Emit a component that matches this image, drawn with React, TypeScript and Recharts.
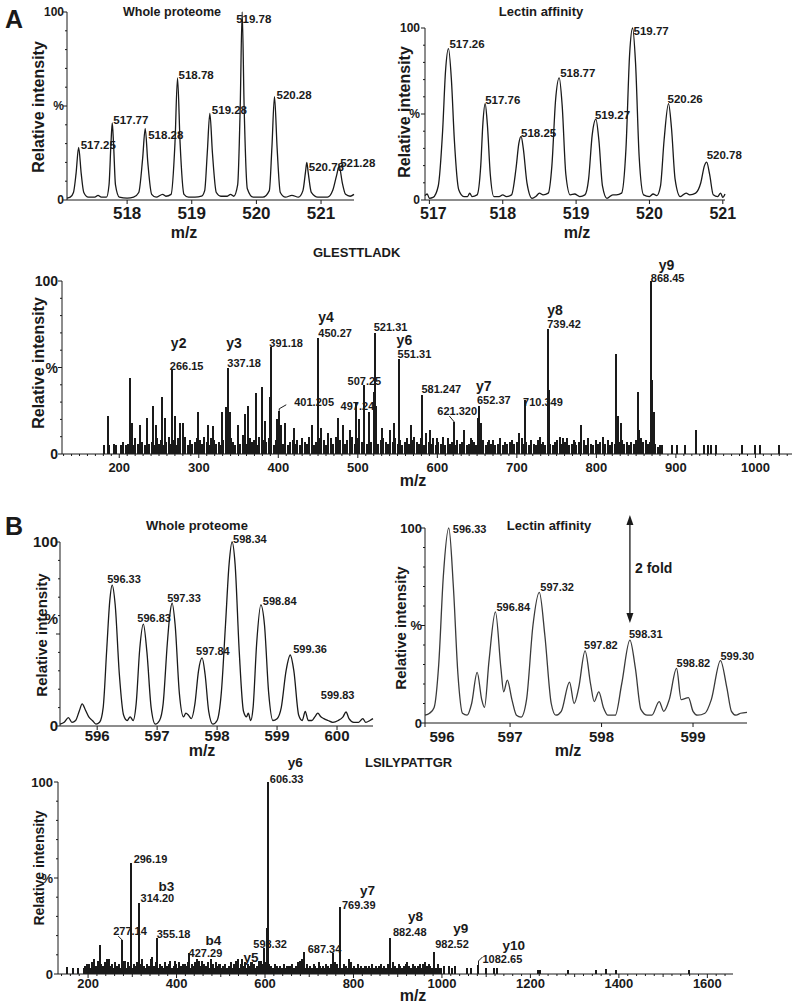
import React from 'react';
import { ComposedChart, Line, Bar, Scatter, XAxis, YAxis, ReferenceLine } from 'recharts';

const FONT = '"Liberation Sans", Arial, Helvetica, sans-serif';
const INK = '#1a1a1a';

type Pt = [number, number];
type Peak = { x: number; y: number; label: string };
type Ion = { x: number; y: number; text: string; ion?: string };

// ---------- A: isotope envelopes, m/z 517-521 ----------
const aWholePeaks: Peak[] = [
  { x: 517.25, y: 28, label: '517.25' },
  { x: 517.77, y: 41, label: '517.77' },
  { x: 518.28, y: 38, label: '518.28' },
  { x: 518.78, y: 65, label: '518.78' },
  { x: 519.28, y: 46, label: '519.28' },
  { x: 519.78, y: 100, label: '519.78' },
  { x: 520.28, y: 55, label: '520.28' },
  { x: 520.78, y: 20, label: '520.78' },
  { x: 521.28, y: 18, label: '521.28' },
];
// trace between the apexes
const aWholeTrace: Pt[] = [
  [517.07, 1], [517.12, 1.5], [517.17, 4], [517.21, 14], [517.29, 14], [517.33, 4], [517.4, 1.5], [517.5, 1.5],
  [517.55, 2.5], [517.6, 1.5], [517.68, 1.5], [517.72, 8], [517.75, 30], [517.79, 30], [517.82, 8], [517.88, 1.5],
  [518.0, 1], [518.1, 1.5], [518.18, 4], [518.24, 22], [518.32, 20], [518.38, 3], [518.45, 1.5], [518.55, 3],
  [518.6, 2], [518.68, 3], [518.74, 30], [518.82, 30], [518.88, 3], [518.95, 1.5], [519.05, 1.5], [519.15, 2],
  [519.2, 5], [519.24, 25], [519.32, 25], [519.38, 4], [519.45, 2], [519.55, 2], [519.6, 3], [519.65, 2],
  [519.71, 8], [519.75, 50], [519.81, 50], [519.86, 6], [519.95, 1.5], [520.1, 1.5], [520.2, 5], [520.24, 28],
  [520.32, 28], [520.37, 4], [520.45, 1.5], [520.55, 2.5], [520.65, 1.5], [520.72, 5], [520.76, 15], [520.8, 15],
  [520.85, 4], [520.95, 1.5], [521.1, 1.5], [521.18, 5], [521.24, 13], [521.33, 9], [521.38, 3], [521.45, 2], [521.51, 3],
];

const aLectinPeaks: Peak[] = [
  { x: 517.26, y: 88, label: '517.26' },
  { x: 517.76, y: 56, label: '517.76' },
  { x: 518.25, y: 37, label: '518.25' },
  { x: 518.77, y: 71, label: '518.77' },
  { x: 519.27, y: 47, label: '519.27' },
  { x: 519.77, y: 100, label: '519.77' },
  { x: 520.26, y: 56, label: '520.26' },
  { x: 520.78, y: 22, label: '520.78' },
];
const aLectinTrace: Pt[] = [
  [516.94, 2.5], [516.97, 3.5], [517.0, 1], [517.05, 1.5], [517.12, 8], [517.18, 40], [517.22, 75], [517.3, 70],
  [517.34, 35], [517.4, 6], [517.47, 2], [517.52, 2], [517.55, 4], [517.58, 2], [517.65, 3], [517.7, 20],
  [517.73, 45], [517.79, 44], [517.83, 15], [517.88, 2], [517.95, 2], [518.0, 3], [518.05, 2], [518.12, 3],
  [518.18, 18], [518.22, 33], [518.28, 30], [518.33, 10], [518.4, 1], [518.45, 2], [518.5, 4], [518.55, 3],
  [518.62, 4], [518.67, 20], [518.72, 58], [518.81, 55], [518.86, 15], [518.92, 3], [518.98, 3.5], [519.05, 2],
  [519.12, 3], [519.17, 12], [519.22, 38], [519.31, 35], [519.36, 8], [519.42, 1], [519.5, 3], [519.55, 3],
  [519.62, 4], [519.68, 30], [519.73, 85], [519.81, 80], [519.86, 25], [519.92, 3], [520.0, 2], [520.05, 3.5],
  [520.1, 2.5], [520.15, 8], [520.2, 35], [520.3, 42], [520.35, 12], [520.42, 2], [520.5, 4], [520.55, 3],
  [520.63, 4], [520.7, 10], [520.75, 20], [520.82, 15], [520.87, 3], [520.93, 2], [520.97, 4], [521.0, 1.5], [521.03, 3.5],
];

// ---------- A: MS/MS of GLESTTLADK ----------
const aMsIons: Ion[] = [
  { x: 266.15, y: 49, text: '266.15', ion: 'y2' },
  { x: 337.18, y: 50, text: '337.18', ion: 'y3' },
  { x: 391.18, y: 62, text: '391.18' },
  { x: 401.205, y: 25, text: '401.205' },
  { x: 450.27, y: 67, text: '450.27', ion: 'y4' },
  { x: 497.24, y: 30, text: '497.24' },
  { x: 507.25, y: 40, text: '507.25' },
  { x: 521.31, y: 70, text: '521.31' },
  { x: 551.31, y: 55, text: '551.31', ion: 'y6' },
  { x: 581.247, y: 34, text: '581.247' },
  { x: 621.32, y: 18.5, text: '621.320' },
  { x: 652.37, y: 28, text: '652.37', ion: 'y7' },
  { x: 710.349, y: 31, text: '710.349' },
  { x: 739.42, y: 72, text: '739.42', ion: 'y8' },
  { x: 868.45, y: 100, text: '868.45', ion: 'y9' },
];
// unlabelled sticks that stand out of the noise
const aMsSticks: Pt[] = [
  [186, 22], [213.3, 44], [216.6, 18], [226, 17], [234.3, 21], [241.9, 28], [246, 17], [253.2, 33], [257.4, 21],
  [269.5, 22], [275.8, 18], [280, 18], [299.2, 24], [312, 17], [318, 16], [328.6, 24], [334, 27], [339.6, 24],
  [349.3, 17], [358, 23], [362, 28], [372.5, 35], [380, 39], [383, 19], [390, 33], [398, 20], [404, 17], [409, 18],
  [419.6, 15], [441.8, 17], [454, 15], [462, 12], [475.4, 21], [481.7, 17], [490, 14], [502, 20], [514.5, 24],
  [520.8, 36], [523.5, 28], [530, 15], [540, 14], [545, 18], [566.7, 17], [586, 12], [591, 14], [600, 9],
  [606.8, 10], [613, 9], [633.6, 14], [642, 9], [650.6, 21], [655, 18], [664.7, 8], [679, 7], [692, 7],
  [702.6, 12], [710, 18], [729, 10], [740.5, 37], [753.8, 10], [758, 9], [772.6, 7], [780.2, 17], [789.4, 9],
  [808.3, 10], [825.1, 58], [827.2, 22], [830.6, 18], [844, 7], [852.4, 36], [854, 14], [870.4, 43], [872, 24],
  [882, 5], [895, 5], [902, 5], [911, 5], [925, 14], [935, 5], [940, 5], [944, 5], [950, 5], [983, 5], [999, 5],
  [1006, 5], [1030, 5],
];
// noise floor, one stick every 3 m/z from 181
const aMsFloorStart = 181;
const aMsFloorStep = 3;
const aMsFloor = [
  5, 0, 5, 0, 6, 5, 0, 5, 7, 5, 6, 8, 5, 9, 6, 4, 7, 5, 8, 6,
  7, 5, 9, 6, 8, 5, 7, 10, 6, 8, 5, 9, 7, 6, 10, 5, 8, 6, 7, 9,
  8, 6, 10, 7, 5, 9, 8, 6, 7, 5, 8, 10, 6, 9, 7, 5, 8, 6, 11, 7,
  6, 9, 7, 8, 5, 10, 6, 8, 7, 9, 6, 5, 8, 7, 10, 6, 9, 5, 7, 8,
  6, 8, 5, 9, 7, 6, 10, 8, 5, 7, 9, 6, 8, 5, 7, 9, 6, 10, 7, 8,
  9, 6, 8, 7, 10, 6, 9, 8, 7, 11, 6, 9, 7, 8, 10, 6, 8, 9, 7, 6,
  8, 7, 9, 6, 8, 5, 7, 9, 6, 8, 10, 7, 6, 9, 5, 8, 7, 6, 9, 5,
  7, 6, 8, 5, 9, 6, 7, 5, 8, 6, 7, 9, 5, 6, 8, 7, 5, 9, 6, 8,
  5, 7, 6, 8, 5, 6, 9, 5, 7, 6, 5, 8, 6, 7, 5, 9, 6, 7, 5, 8,
  6, 5, 8, 6, 7, 5, 9, 6, 5, 7, 8, 5, 6, 7, 9, 5, 6, 8, 5, 7,
  6, 8, 5, 7, 6, 5, 8, 6, 7, 5, 6, 8, 5, 7, 6, 9, 7, 8, 6, 7,
  5, 7, 6, 8, 6, 9, 7, 8, 6, 7, 5, 6, 4, 5,
];

// ---------- B: isotope envelopes, m/z 596-600 ----------
const bWholePeaks: Peak[] = [
  { x: 596.25, y: 76.6, label: '596.33' },
  { x: 596.77, y: 55.4, label: '596.83' },
  { x: 597.25, y: 66.8, label: '597.33' },
  { x: 597.75, y: 37, label: '597.84' },
  { x: 598.25, y: 100, label: '598.34' },
  { x: 598.73, y: 65.8, label: '598.84' },
  { x: 599.22, y: 38.6, label: '599.36' },
  { x: 599.68, y: 7, label: '599.83' },
];
const bWholeTrace: Pt[] = [
  [595.38, 1], [595.45, 2], [595.52, 4.5], [595.58, 2], [595.64, 3], [595.7, 8], [595.75, 12], [595.8, 9],
  [595.86, 5], [595.92, 3], [595.98, 1], [596.04, 2], [596.1, 10], [596.16, 42], [596.21, 68], [596.3, 66],
  [596.37, 28], [596.44, 6], [596.5, 3], [596.55, 5], [596.6, 3], [596.65, 12], [596.71, 42], [596.83, 40],
  [596.9, 10], [596.97, 1], [597.04, 3], [597.1, 12], [597.17, 45], [597.21, 60], [597.3, 55], [597.37, 18],
  [597.44, 5], [597.48, 7], [597.52, 6], [597.57, 4], [597.63, 12], [597.69, 30], [597.8, 28], [597.86, 8],
  [597.93, 1], [598.0, 3], [598.07, 18], [598.14, 55], [598.2, 88], [598.3, 88], [598.37, 40], [598.44, 8],
  [598.49, 5], [598.52, 7], [598.56, 3], [598.6, 10], [598.66, 45], [598.79, 55], [598.86, 18], [598.93, 3],
  [599.0, 4], [599.07, 10], [599.15, 30], [599.28, 30], [599.36, 6], [599.42, 3], [599.47, 8], [599.52, 3],
  [599.58, 3], [599.63, 5], [599.73, 5], [599.78, 4], [599.85, 3], [599.93, 2], [600.02, 3], [600.1, 5],
  [600.15, 7.6], [600.2, 4], [600.28, 2], [600.36, 2], [600.43, 4], [600.48, 2], [600.55, 3], [600.6, 4],
];

const bLectinPeaks: Peak[] = [
  { x: 596.33, y: 100, label: '596.33' },
  { x: 596.84, y: 57, label: '596.84' },
  { x: 597.32, y: 67, label: '597.32' },
  { x: 597.82, y: 37, label: '597.82' },
  { x: 598.31, y: 42.5, label: '598.31' },
  { x: 598.82, y: 28, label: '598.82' },
  { x: 599.3, y: 32, label: '599.30' },
];
const bLectinTrace: Pt[] = [
  [596.07, 4], [596.12, 5], [596.17, 8], [596.22, 30], [596.27, 75], [596.38, 70], [596.43, 25], [596.48, 5],
  [596.53, 4], [596.58, 10], [596.64, 26], [596.69, 12], [596.72, 8], [596.77, 32], [596.9, 28], [596.93, 16],
  [596.97, 22], [597.02, 12], [597.07, 4], [597.12, 3], [597.18, 12], [597.25, 50], [597.38, 45], [597.45, 10],
  [597.5, 4], [597.56, 6], [597.65, 21], [597.7, 10], [597.75, 18], [597.88, 20], [597.92, 11], [597.97, 16],
  [598.02, 8], [598.07, 4], [598.15, 4], [598.22, 20], [598.37, 28], [598.43, 7], [598.5, 4], [598.55, 4],
  [598.63, 11], [598.68, 6], [598.74, 12], [598.87, 12], [598.95, 13], [599.0, 6], [599.05, 4], [599.13, 5],
  [599.2, 12], [599.37, 18], [599.42, 6], [599.47, 4], [599.52, 5], [599.59, 5.5],
];
// the "2 fold" arrow (intensity %, at the 598.31 peak)
const bFoldArrow = { x: 598.31, from: 106.7, to: 51.3 };

// ---------- B: MS/MS of LSILYPATTGR ----------
const bMsIons: Ion[] = [
  { x: 277.14, y: 17.7, text: '277.14' },
  { x: 296.19, y: 58, text: '296.19' },
  { x: 314.2, y: 37, text: '314.20', ion: 'b3' },
  { x: 355.18, y: 18.8, text: '355.18' },
  { x: 427.29, y: 11, text: '427.29', ion: 'b4' },
  { x: 549, y: 8, text: '', ion: 'y5' },
  { x: 598.32, y: 13.5, text: '598.32' },
  { x: 606.33, y: 100, text: '606.33', ion: 'y6' },
  { x: 687.34, y: 11.5, text: '687.34' },
  { x: 769.39, y: 35, text: '769.39', ion: 'y7' },
  { x: 882.48, y: 19, text: '882.48', ion: 'y8' },
  { x: 982.52, y: 11.5, text: '982.52', ion: 'y9' },
  { x: 1082.65, y: 4.7, text: '1082.65', ion: 'y10' },
];
const bMsSticks: Pt[] = [
  [152, 3.5], [165, 3], [177, 3], [198.5, 5], [214, 8], [227, 15], [242, 8], [248, 8], [261, 6], [284, 7],
  [303, 5], [321, 8], [344, 9], [385, 5], [397, 7], [414, 5], [446, 8], [457, 7], [478, 8], [495, 5], [522, 4],
  [538, 8], [569, 6], [590, 7], [604.5, 24], [625, 4], [655, 4], [678, 6], [684, 8], [724, 4], [754, 11],
  [790, 8], [828, 4], [921, 6], [957, 5], [992, 5], [1005, 4], [1015, 4], [1022, 3], [1030, 4], [1056, 3],
  [1065, 3], [1100, 3], [1118, 3], [1125, 3], [1218, 2], [1222, 2], [1284, 2], [1348, 2], [1370, 2.5],
  [1393, 2], [1559, 2],
];
const bMsFloorStart = 190;
const bMsFloorStep = 4;
const bMsFloor = [
  3, 4, 2, 5, 3, 6, 3, 4, 7, 3, 5, 4, 6, 3, 8, 4, 5, 3, 6, 4,
  5, 3, 7, 4, 3, 6, 4, 5, 3, 4, 6, 3, 5, 7, 4, 3, 5, 4, 8, 3,
  4, 6, 3, 5, 4, 3, 6, 4, 5, 7, 3, 4, 5, 3, 6, 4, 3, 5, 4, 6,
  3, 5, 4, 6, 3, 7, 4, 3, 5, 4, 6, 3, 4, 5, 3, 6, 4, 5, 3, 4,
  5, 3, 4, 6, 3, 5, 7, 4, 3, 5, 4, 6, 3, 5, 4, 6, 5, 3, 4, 7,
  4, 5, 3, 6, 8, 5, 4, 3, 5, 4, 3, 4, 3, 5, 3, 4, 3, 4, 5, 3,
  4, 6, 7, 5, 4, 3, 5, 3, 4, 3, 5, 4, 3, 6, 3, 4, 3, 5, 4, 3,
  5, 4, 6, 5, 3, 4, 3, 5, 4, 3, 5, 6, 3, 4, 3, 5, 3, 4, 3, 4,
  3, 4, 3, 5, 3, 4, 3, 4, 5, 3, 4, 3, 5, 4, 3, 6, 4, 3, 5, 4,
  3, 4, 5, 3, 4, 3, 5, 4, 3, 4, 5, 3, 4, 6, 4, 5, 4, 3, 4, 3,
  4, 3, 3,
];

// axis tick labels
const aWholeTicks = [518, 519, 520, 521];
const aLectinTicks = [517, 518, 519, 520, 521];
const aMsTicks = [200, 300, 400, 500, 600, 700, 800, 900, 1000];
const bWholeTicks = [596, 597, 598, 599, 600];
const bLectinTicks = [596.07, 597, 598, 599];
const bMsTicks = [200, 400, 600, 800, 1000, 1200, 1400, 1600];
const yTickLabels: Record<number, string> = { 0: '0', 50: '%', 100: '100' };

// ---------- label placement (px offsets from the apex / stick top) ----------
const aWholePos: Record<string, Pt> = {
  '517.25': [2, 2], '517.77': [1, 1], '518.28': [3, 10], '518.78': [1, 1], '519.28': [2, 0],
  '519.78': [-6, 11], '520.28': [2, 2], '520.78': [2, 9], '521.28': [1, 1],
};
const aLectinPos: Record<string, Pt> = {
  '517.26': [1, -1], '517.76': [0, 0], '518.25': [0, 1], '518.77': [1, -1], '519.27': [-1, 0],
  '519.77': [1, 7], '520.26': [-1, -1], '520.78': [0, -3],
};
const bWholePos: Record<string, Pt> = {
  '596.33': [-5, -2], '596.83': [-6, -2], '597.33': [-5, -1], '597.84': [-6, -3], '598.34': [1, 1],
  '598.84': [2, 0], '599.36': [3, -2], '599.83': [3, -14],
};
const bLectinPos: Record<string, Pt> = {
  '596.33': [4, 5], '596.84': [1, -1], '597.32': [1, -1], '597.82': [-1, -2], '598.31': [-1, -2],
  '598.82': [0, -1], '599.30': [0, -1],
};
type IonPos = { num?: Pt; ion?: Pt; lead?: Pt[] };
const aMsPos: Record<string, IonPos> = {
  '266.15': { num: [-2, 1], ion: [-1, -21] },
  '337.18': { num: [-1, -1], ion: [-2, -20] },
  '391.18': { num: [-2, 0] },
  '401.205': { num: [15, -5], lead: [[0, 0], [0, -2], [7, -6]] },
  '450.27': { num: [0, -1], ion: [0, -16] },
  '497.24': { num: [-15, 8] },
  '507.25': { num: [-16, 0] },
  '521.31': { num: [-1, -2] },
  '551.31': { num: [-1, -1], ion: [-2, -14] },
  '581.247': { num: [-1, -2] },
  '621.320': { num: [-17, -7], lead: [[0, 0], [-5, -6]] },
  '652.37': { num: [-2, -2], ion: [-3, -15] },
  '710.349': { num: [-2, 6] },
  '739.42': { num: [-1, -1], ion: [-1, -14] },
  '868.45': { num: [0, 1], ion: [8, -11] },
};
const bMsPos: Record<string, IonPos> = {
  '277.14': { num: [-9, -5], lead: [[0, 0], [-4, -4]] },
  '296.19': { num: [3, 0] },
  '314.20': { num: [2, -1], ion: [20, -12] },
  '355.18': { num: [0, 0] },
  '427.29': { num: [0, 4], ion: [17, -8] },
  y5: { ion: [1, 3] },
  '598.32': { num: [-11, 0] },
  '606.33': { num: [2, 1], ion: [20, -15] },
  '687.34': { num: [4, 1] },
  '769.39': { num: [2, 2], ion: [20, -12] },
  '882.48': { num: [3, -2], ion: [18, -17] },
  '982.52': { num: [1, -4], ion: [19, -19] },
  '1082.65': { num: [4, -2], ion: [24, -15], lead: [[0, 0], [0, -4], [4, -8]] },
};

// ---------- helpers ----------
const range = (from: number, to: number, step: number) => {
  const out: number[] = [];
  for (let v = from; v <= to + 1e-9; v += step) out.push(+v.toFixed(4));
  return out;
};
const profile = (trace: Pt[], peaks: Peak[]) =>
  [...trace.map(([x, y]) => ({ x, y })), ...peaks.map(({ x, y }) => ({ x, y }))].sort((a, b) => a.x - b.x);
const sticks = (floor: number[], start: number, step: number, extra: Pt[], ions: Ion[]) =>
  [
    ...floor.map((y, i) => ({ x: start + i * step, y })).filter((d) => d.y > 0),
    ...extra.map(([x, y]) => ({ x, y })),
    ...ions.map(({ x, y }) => ({ x, y })),
  ].sort((a, b) => a.x - b.x);

const Y_W = 40;
const TOP = 30;
const X_H = 32;
const Y_TICKS = range(0, 100, 10);

type XCfg = {
  domain: [number, number];
  major: number[];
  minor?: number[];
  mid?: number[];
  font: number;
  dy: number;
  dx?: Record<string, number>;
};
type YCfg = { font: number; gap: number; pctDy?: number };

const has = (arr: number[] | undefined, v: number) => !!arr && arr.some((m) => Math.abs(m - v) < 1e-6);

const XTick = (props: any) => {
  const { x, y, payload, cfg } = props;
  const v: number = payload.value;
  const major = has(cfg.major, v);
  const len = major ? 4 : has(cfg.mid, v) ? 3 : 2;
  return (
    <g>
      <line x1={x} y1={y} x2={x} y2={y + len} stroke={INK} strokeWidth={1} />
      {major && (
        <text x={x + (cfg.dx?.[String(v)] ?? 0)} y={y + cfg.dy} textAnchor="middle" fontSize={cfg.font}
          fontWeight="bold" fontFamily={FONT} fill={INK}>
          {Math.round(v)}
        </text>
      )}
    </g>
  );
};

const YTick = (props: any) => {
  const { x, y, payload, cfg } = props;
  const v: number = payload.value;
  const label = yTickLabels[v];
  return (
    <g>
      <line x1={x} y1={y} x2={x - (label ? 4 : 2)} y2={y} stroke={INK} strokeWidth={1} />
      {label && (
        <text x={x - cfg.gap} y={y + cfg.font * 0.36 + (v === 50 ? cfg.pctDy ?? 0 : 0)} textAnchor="end"
          fontSize={cfg.font} fontWeight="bold" fontFamily={FONT} fill={INK}>
          {label}
        </text>
      )}
    </g>
  );
};

// one stick of the centroided spectrum, drawn as a crisp line from the bar top to the baseline
const Stick = (p: any) => {
  if (!p.height) return <g />;
  const cx = Math.round(p.x + p.width / 2);
  return (
    <line x1={cx} x2={cx} y1={p.y} y2={p.y + p.height} stroke={INK} strokeWidth={2} shapeRendering="crispEdges" />
  );
};

const peakLabel = (pos: Record<string, Pt>, size: number) => (p: any) => {
  const o = pos[p.payload.label] ?? [1, 0];
  return (
    <text x={p.cx + o[0]} y={p.cy + o[1]} fontSize={size} fontWeight="bold" fontFamily={FONT} fill={INK}>
      {p.payload.label}
    </text>
  );
};

const ionLabel = (pos: Record<string, IonPos>, numSize: number, ionSize: number) => (p: any) => {
  const d: Ion = p.payload;
  const o = pos[d.text || d.ion || ''] ?? {};
  const num = o.num ?? [0, 0];
  const ion = o.ion ?? [0, -14];
  return (
    <g fontWeight="bold" fontFamily={FONT} fill={INK}>
      {o.lead && (
        <polyline points={o.lead.map(([dx, dy]) => `${p.cx + dx},${p.cy + dy}`).join(' ')}
          fill="none" stroke={INK} strokeWidth={1} />
      )}
      {d.text && <text x={p.cx + num[0]} y={p.cy + num[1]} fontSize={numSize}>{d.text}</text>}
      {d.ion && <text x={p.cx + ion[0]} y={p.cy + ion[1]} fontSize={ionSize}>{d.ion}</text>}
    </g>
  );
};

const FoldArrow = (p: any) => {
  const x = p.x1;
  const top = Math.min(p.y1, p.y2);
  const bot = Math.max(p.y1, p.y2);
  return (
    <g>
      <line x1={x} y1={top + 4} x2={x} y2={bot - 4} stroke={INK} strokeWidth={1.3} />
      <polygon points={`${x},${top} ${x - 3.5},${top + 10} ${x + 3.5},${top + 10}`} fill={INK} />
      <polygon points={`${x},${bot} ${x - 3.5},${bot - 10} ${x + 3.5},${bot - 10}`} fill={INK} />
    </g>
  );
};

type Frame = { x: number; y: number; w: number; h: number };

function Panel(props: {
  frame: Frame;
  xc: XCfg;
  yc: YCfg;
  data: { x: number; y: number }[];
  kind: 'profile' | 'sticks';
  marks: any[];
  markShape: (p: any) => React.ReactElement;
  right?: number;
  stroke?: string;
  arrow?: { x: number; from: number; to: number };
}) {
  const { frame, xc, yc, data, kind, marks, markShape, right = 45, stroke = INK, arrow } = props;
  const W = Y_W + frame.w + right;
  const H = TOP + frame.h + X_H;
  const ticks = [...xc.major, ...(xc.mid ?? []), ...(xc.minor ?? [])];
  return (
    <div style={{ position: 'absolute', left: frame.x - Y_W, top: frame.y - TOP, width: W, height: H }}>
      <ComposedChart width={W} height={H} data={data} margin={{ top: TOP, right, bottom: 0, left: 0 }}>
        <XAxis type="number" dataKey="x" domain={xc.domain} ticks={ticks} interval={0}
          tickSize={0} tickMargin={0} tickLine={false} axisLine={{ stroke: INK }} height={X_H}
          tick={(p: any) => <XTick {...p} cfg={xc} />} />
        <YAxis type="number" dataKey="y" domain={[0, 100]} ticks={Y_TICKS} interval={0}
          tickSize={0} tickMargin={0} tickLine={false} axisLine={{ stroke: INK }} width={Y_W}
          tick={(p: any) => <YTick {...p} cfg={yc} />} />
        {kind === 'profile' ? (
          <Line type="monotone" dataKey="y" stroke={stroke} strokeWidth={1.3} dot={false} activeDot={false}
            isAnimationActive={false} />
        ) : (
          <Bar dataKey="y" fill={INK} barSize={1} shape={(p: any) => <Stick {...p} />} isAnimationActive={false} />
        )}
        <Scatter data={marks} dataKey="y" shape={markShape} isAnimationActive={false} />
        {arrow && (
          <ReferenceLine segment={[{ x: arrow.x, y: arrow.from }, { x: arrow.x, y: arrow.to }]} ifOverflow="visible"
            stroke={INK} shape={(p: any) => <FoldArrow {...p} />} />
        )}
      </ComposedChart>
    </div>
  );
}

// captions, axis titles and panel letters
const captions = [
  { t: 'A', x: 5, y: 28, s: 25 },
  { t: 'B', x: 5, y: 535, s: 25 },
  { t: 'Whole proteome', x: 172, y: 16, s: 12.5, a: 'middle' },
  { t: 'Lectin affinity', x: 541, y: 16, s: 13, a: 'middle' },
  { t: 'GLESTTLADK', x: 313, y: 257, s: 13 },
  { t: 'Whole proteome', x: 197, y: 530, s: 13, a: 'middle' },
  { t: 'Lectin affinity', x: 549, y: 530, s: 13, a: 'middle' },
  { t: 'LSILYPATTGR', x: 365, y: 767, s: 13 },
  { t: '2 fold', x: 635, y: 573, s: 14 },
  { t: 'm/z', x: 184, y: 238, s: 16, a: 'middle' },
  { t: 'm/z', x: 577, y: 238, s: 16, a: 'middle' },
  { t: 'm/z', x: 413, y: 486, s: 16, a: 'middle' },
  { t: 'm/z', x: 202, y: 756, s: 16, a: 'middle' },
  { t: 'm/z', x: 568, y: 756, s: 16, a: 'middle' },
  { t: 'm/z', x: 413, y: 1001, s: 16, a: 'middle' },
];
const yTitles = [
  { x: 44, y: 107, s: 16 },
  { x: 410, y: 112, s: 16 },
  { x: 44, y: 363, s: 16 },
  { x: 47, y: 635, s: 15 },
  { x: 406, y: 628, s: 15 },
  { x: 44, y: 868, s: 14 },
];

export default function App() {
  return (
    <div style={{ position: 'absolute', left: 0, top: 0, width: 800, height: 1007, background: '#fff', overflow: 'hidden' }}>
      <style>{'.recharts-surface{overflow:visible}'}</style>

      <Panel frame={{ x: 67, y: 12, w: 287, h: 188 }} kind="profile" data={profile(aWholeTrace, aWholePeaks)}
        xc={{ domain: [517.07, 521.51], major: aWholeTicks, font: 17, dy: 19 }}
        yc={{ font: 12, gap: 3 }} marks={aWholePeaks} markShape={peakLabel(aWholePos, 11.5)} />

      <Panel frame={{ x: 425, y: 28, w: 300, h: 172 }} kind="profile" data={profile(aLectinTrace, aLectinPeaks)}
        xc={{ domain: [516.94, 521.03], major: aLectinTicks, font: 16, dy: 19, dx: { '517': 4 } }}
        yc={{ font: 12, gap: 5 }} marks={aLectinPeaks} markShape={peakLabel(aLectinPos, 11.5)} />

      <Panel frame={{ x: 62, y: 281, w: 730, h: 173 }} kind="sticks" right={8}
        data={sticks(aMsFloor, aMsFloorStart, aMsFloorStep, aMsSticks, aMsIons)}
        xc={{ domain: [128, 1046], major: aMsTicks, minor: range(130, 1040, 10).filter((v) => v % 100 !== 0), font: 13, dy: 18 }}
        yc={{ font: 14, gap: 4 }} marks={aMsIons} markShape={ionLabel(aMsPos, 11, 14)} />

      <Panel frame={{ x: 60, y: 542, w: 313, h: 184 }} kind="profile" data={profile(bWholeTrace, bWholePeaks)}
        xc={{ domain: [595.38, 600.6], major: bWholeTicks, font: 15, dy: 15 }}
        yc={{ font: 15, gap: 2, pctDy: -15 }} marks={bWholePeaks} markShape={peakLabel(bWholePos, 11)} />

      <Panel frame={{ x: 425, y: 528, w: 322, h: 195 }} kind="profile" stroke="#3a3a3a"
        data={profile(bLectinTrace, bLectinPeaks)}
        xc={{ domain: [596.07, 599.59], major: bLectinTicks, font: 15, dy: 19, dx: { '596.07': 17 } }}
        yc={{ font: 13, gap: 3 }} marks={bLectinPeaks} markShape={peakLabel(bLectinPos, 11)} arrow={bFoldArrow} />

      <Panel frame={{ x: 58, y: 782, w: 675, h: 192 }} kind="sticks" right={30}
        data={sticks(bMsFloor, bMsFloorStart, bMsFloorStep, bMsSticks, bMsIons)}
        xc={{
          domain: [132, 1658], major: bMsTicks,
          mid: range(100, 1600, 100).filter((v) => v % 200 !== 0 && v > 132),
          minor: range(140, 1640, 20).filter((v) => v % 100 !== 0), font: 13, dy: 14,
        }}
        yc={{ font: 13, gap: 5 }} marks={bMsIons} markShape={ionLabel(bMsPos, 11, 13.5)} />

      <svg width={800} height={1007} style={{ position: 'absolute', left: 0, top: 0, pointerEvents: 'none' }}
        fontFamily={FONT} fontWeight="bold" fill={INK}>
        {captions.map((c, i) => (
          <text key={i} x={c.x} y={c.y} fontSize={c.s} textAnchor={c.a ?? 'start'}>{c.t}</text>
        ))}
        {yTitles.map((c, i) => (
          <text key={'y' + i} transform="rotate(-90)" x={-c.y} y={c.x} fontSize={c.s} textAnchor="middle">
            Relative intensity
          </text>
        ))}
      </svg>
    </div>
  );
}
